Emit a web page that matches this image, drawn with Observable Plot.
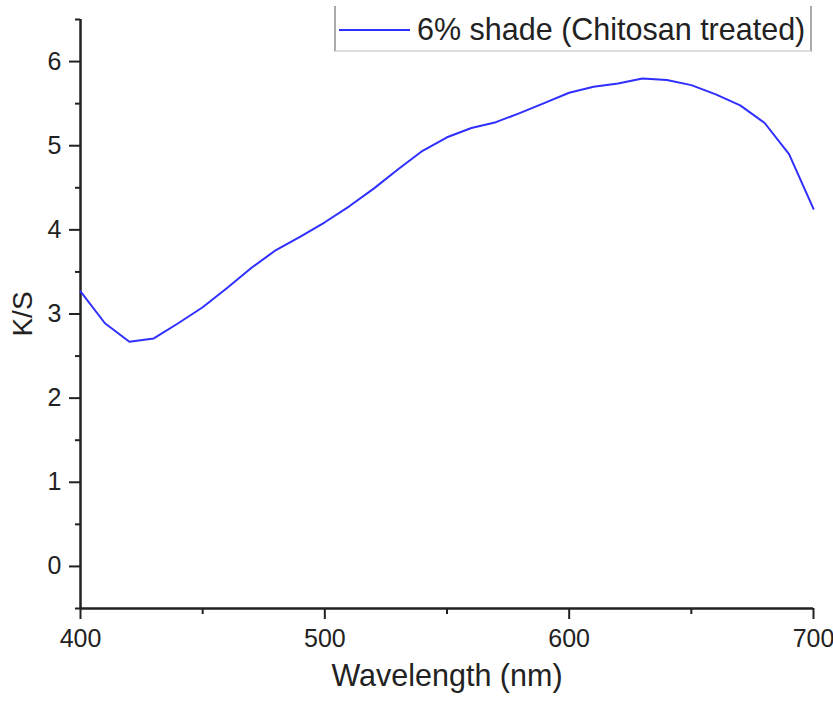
<!DOCTYPE html>
<html>
<head>
<meta charset="utf-8">
<script src="https://cdn.jsdelivr.net/npm/d3@7"></script>
<script src="https://cdn.jsdelivr.net/npm/@observablehq/plot@0.6"></script>
<style>
  html, body { margin: 0; padding: 0; background: #fff; }
  #wrap { position: relative; width: 833px; height: 702px; font-family: "Liberation Sans", Arial, sans-serif; }
  #legend {
    position: absolute; left: 334px; top: 6px; width: 474px; height: 44px;
    border-left: 2px solid #aaa; border-right: 2px solid #aaa; border-bottom: 2px solid #ddd;
    background: #fff; box-sizing: content-box;
  }
  #legend .swatch { position: absolute; left: 3px; top: 23px; width: 71px; height: 0; border-top: 2px solid #2f2fff; }
  #legend .label { position: absolute; left: 81px; top: 5px; font-size: 30.5px; line-height: 36px; color: #222; white-space: nowrap; }
</style>
</head>
<body>
<div id="wrap"></div>
<script>
const wavelengths = [400, 410, 420, 430, 440, 450, 460, 470, 480, 490, 500, 510, 520, 530, 540, 550, 560, 570, 580, 590, 600, 610, 620, 630, 640, 650, 660, 670, 680, 690, 700];
const ksValues = [3.27, 2.89, 2.67, 2.71, 2.89, 3.08, 3.31, 3.55, 3.76, 3.92, 4.09, 4.28, 4.49, 4.72, 4.94, 5.10, 5.21, 5.28, 5.39, 5.51, 5.63, 5.70, 5.74, 5.80, 5.78, 5.72, 5.61, 5.48, 5.27, 4.90, 4.25];
const xMajorTicks = [400, 500, 600, 700];
const xMinorTicks = [450, 550, 650];
const yMajorTicks = [0, 1, 2, 3, 4, 5, 6];
const yMinorTicks = [-0.5, 0.5, 1.5, 2.5, 3.5, 4.5, 5.5, 6.5];
const seriesName = "6% shade (Chitosan treated)";
const xLabel = "Wavelength (nm)";
const yLabel = "K/S";

const data = wavelengths.map((w, i) => ({wl: w, ks: ksValues[i]}));
const axisColor = "#222";

const chart = Plot.plot({
  width: 833,
  height: 702,
  marginLeft: 80,
  marginRight: 20,
  marginTop: 19,
  marginBottom: 94,
  style: {fontFamily: "'Liberation Sans', Arial, sans-serif", background: "#fff", color: axisColor},
  x: {domain: [400, 700]},
  y: {domain: [-0.5, 6.5]},
  marks: [
    Plot.axisY({ticks: yMajorTicks, tickSize: 11, tickPadding: 8, fontSize: 25, strokeWidth: 2, label: null, tickFormat: d3.format("d")}),
    Plot.axisY({ticks: yMinorTicks, tickSize: 5, strokeWidth: 2, text: null, label: null}),
    Plot.axisY({ticks: [], label: yLabel, labelAnchor: "center", labelOffset: 68, labelArrow: "none", fontSize: 28}),
    Plot.axisX({ticks: xMajorTicks, tickSize: 11, tickPadding: 10, fontSize: 25, strokeWidth: 2, label: null, tickFormat: d3.format("d")}),
    Plot.axisX({ticks: xMinorTicks, tickSize: 6, strokeWidth: 2, text: null, label: null}),
    Plot.axisX({ticks: [], label: xLabel, labelAnchor: "center", labelOffset: 77, labelArrow: "none", fontSize: 30.5}),
    Plot.ruleX([400], {stroke: axisColor, strokeWidth: 2.5}),
    Plot.ruleY([-0.5], {stroke: axisColor, strokeWidth: 2.5}),
    Plot.line(data, {x: "wl", y: "ks", stroke: "#2f2fff", strokeWidth: 2})
  ]
});

const wrap = document.getElementById("wrap");
wrap.appendChild(chart);
const legend = document.createElement("div");
legend.id = "legend";
legend.innerHTML = `<div class="swatch"></div><div class="label"></div>`;
legend.querySelector(".label").textContent = seriesName;
wrap.appendChild(legend);
</script>
</body>
</html>
